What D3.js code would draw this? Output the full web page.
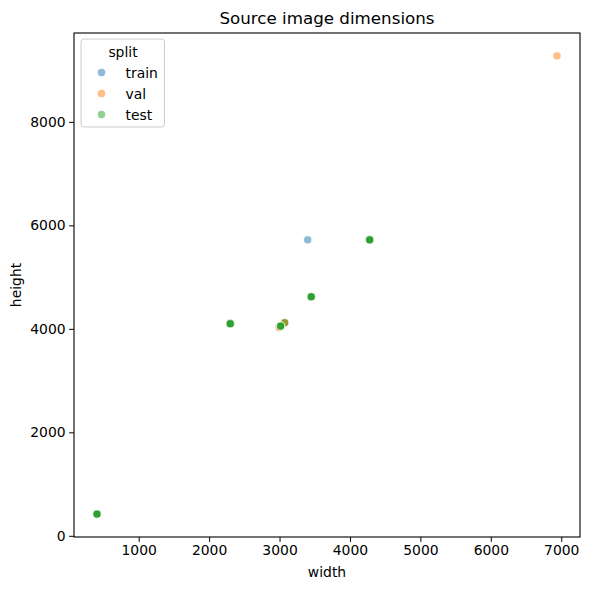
<!DOCTYPE html>
<html>
<head>
<meta charset="utf-8">
<script src="https://cdn.jsdelivr.net/npm/d3@7"></script>
<style>
  body { margin: 0; background: #fff; }
  text { font-family: "DejaVu Sans", sans-serif; fill: #000; }
</style>
</head>
<body>
<div id="chart"></div>
<script>
// image sizes per split, [width, height]; repeated rows = several images with the same size
var trainPts = [[3400, 5720], [4280, 5720], [3450, 4620], [2300, 4100], [3016, 4054], [408, 420]];
var valPts = [[2996, 4029], [2996, 4029], [3073, 4118], [3073, 4118], [3073, 4118], [6940, 9275]];
var testPts = [
  [4280, 5720], [4280, 5720], [4280, 5720], [4280, 5720], [4280, 5720],
  [3450, 4620], [3450, 4620], [3450, 4620], [3450, 4620], [3450, 4620],
  [2300, 4100], [2300, 4100], [2300, 4100], [2300, 4100], [2300, 4100],
  [3073, 4118],
  [3016, 4054], [3016, 4054], [3016, 4054], [3016, 4054], [3016, 4054],
  [408, 420], [408, 420], [408, 420], [408, 420], [408, 420]
];
var splits = ["train", "val", "test"];
var splitColors = ["#1f77b4", "#ff7f0e", "#2ca02c"];
var xTicks = [1000, 2000, 3000, 4000, 5000, 6000, 7000];
var yTicks = [0, 2000, 4000, 6000, 8000];

var W = 590, H = 590;
var margin = {top: 33, right: 10, bottom: 53, left: 74};
var w = W - margin.left - margin.right,
    h = H - margin.top - margin.bottom;

var all = trainPts.concat(valPts, testPts);
function padded(ext) {
  var s = ext[1] - ext[0];
  return [ext[0] - 0.05 * s, ext[1] + 0.05 * s];
}

var xScale = d3.scaleLinear()
    .domain(padded(d3.extent(all, function(d) { return d[0]; })))
    .range([0, w]);
var yScale = d3.scaleLinear()
    .domain(padded(d3.extent(all, function(d) { return d[1]; })))
    .range([h, 0]);
var color = d3.scaleOrdinal().domain(splits).range(splitColors);

var svg = d3.select("#chart").append("svg")
    .attr("width", W)
    .attr("height", H);
var g = svg.append("g")
    .attr("transform", "translate(" + margin.left + "," + margin.top + ")");

// points, drawn split by split
var rows = [];
trainPts.forEach(function(p) { rows.push({w: p[0], h: p[1], split: "train"}); });
valPts.forEach(function(p) { rows.push({w: p[0], h: p[1], split: "val"}); });
testPts.forEach(function(p) { rows.push({w: p[0], h: p[1], split: "test"}); });

g.selectAll("circle.pt")
    .data(rows)
  .enter().append("circle")
    .attr("class", "pt")
    .attr("cx", function(d) { return xScale(d.w); })
    .attr("cy", function(d) { return yScale(d.h); })
    .attr("r", 4.1)
    .attr("fill", function(d) { return color(d.split); })
    .attr("stroke", "#fff")
    .attr("stroke-width", 0.75)
    .attr("opacity", 0.5);

// axes
var xAxis = d3.axisBottom(xScale).tickValues(xTicks).tickFormat(d3.format("d"))
    .tickSize(4.9).tickPadding(3.5).tickSizeOuter(0);
var yAxis = d3.axisLeft(yScale).tickValues(yTicks).tickFormat(d3.format("d"))
    .tickSize(4.9).tickPadding(3.5).tickSizeOuter(0);

var gx = g.append("g").attr("transform", "translate(0," + h + ")").call(xAxis);
var gy = g.append("g").call(yAxis);
[gx, gy].forEach(function(a) {
  a.select(".domain").remove();
  a.selectAll("line").attr("stroke", "#000").attr("stroke-width", 1);
  a.selectAll("text").style("font-family", "DejaVu Sans").style("font-size", "13.9px").attr("fill", "#000");
});

// frame
g.append("rect")
    .attr("x", 0).attr("y", 0)
    .attr("width", w).attr("height", h)
    .attr("fill", "none")
    .attr("stroke", "#000")
    .attr("stroke-width", 1.1);

// labels
svg.append("text")
    .attr("x", margin.left + w / 2).attr("y", 24)
    .attr("text-anchor", "middle")
    .style("font-size", "16.7px")
    .text("Source image dimensions");
svg.append("text")
    .attr("x", margin.left + w / 2).attr("y", 577)
    .attr("text-anchor", "middle")
    .style("font-size", "13.9px")
    .text("width");
svg.append("text")
    .attr("transform", "translate(21," + (margin.top + h / 2) + ") rotate(-90)")
    .attr("text-anchor", "middle")
    .style("font-size", "13.9px")
    .text("height");

// legend
var lg = svg.append("g").attr("transform", "translate(81,39)");
lg.append("rect")
    .attr("width", 83.5).attr("height", 88)
    .attr("rx", 3).attr("ry", 3)
    .attr("fill", "#fff").attr("fill-opacity", 0.8)
    .attr("stroke", "#cccccc").attr("stroke-width", 1);
lg.append("text")
    .attr("x", 42).attr("y", 18)
    .attr("text-anchor", "middle")
    .style("font-size", "13.9px")
    .text("split");
var items = lg.selectAll("g.item")
    .data(splits)
  .enter().append("g")
    .attr("class", "item")
    .attr("transform", function(d, i) { return "translate(0," + (33.5 + i * 21) + ")"; });
items.append("circle")
    .attr("cx", 20.5).attr("cy", 0).attr("r", 4.1)
    .attr("fill", function(d) { return color(d); })
    .attr("stroke", "#fff").attr("stroke-width", 0.75)
    .attr("opacity", 0.5);
items.append("text")
    .attr("x", 44.5).attr("y", 5)
    .style("font-size", "13.9px")
    .text(function(d) { return d; });
</script>
</body>
</html>
